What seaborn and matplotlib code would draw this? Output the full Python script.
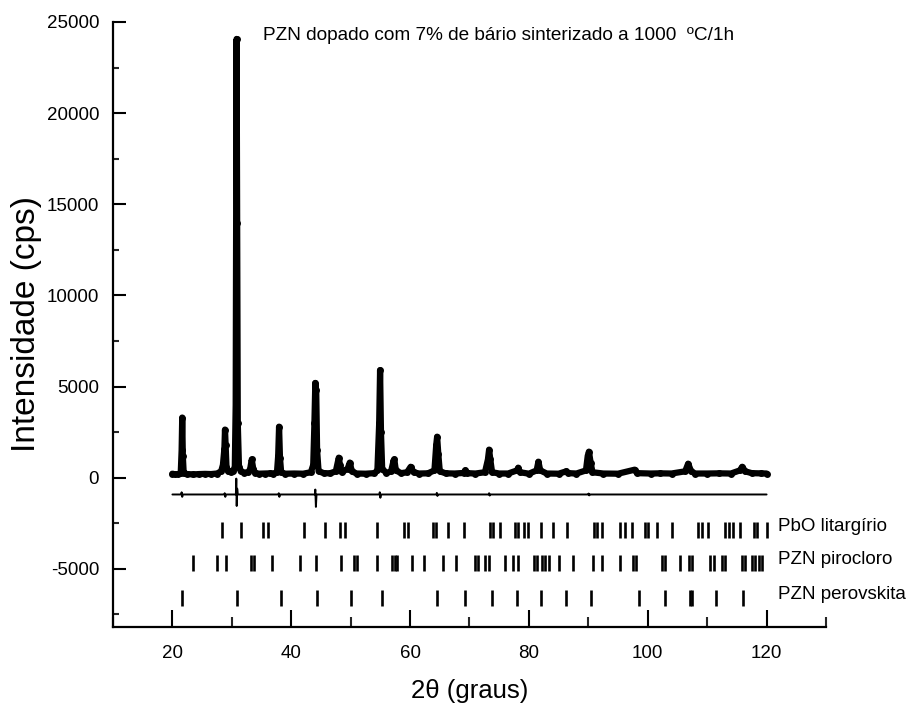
import numpy as np
import pandas as pd
import matplotlib
matplotlib.use("Agg")
import matplotlib.pyplot as plt
import seaborn as sns
from matplotlib.ticker import MultipleLocator

# ---------------- data ----------------
obs_2theta = [20.0, 20.5, 21.0, 21.4, 21.55, 21.65, 21.75, 21.9, 22.5, 23.5, 24.5, 25.5, 26.5,
              27.5, 28.2, 28.5, 28.75, 28.85, 28.95, 29.1, 29.4, 29.8, 30.2, 30.5, 30.65, 30.75,
              30.8, 30.9, 31.0, 31.2, 31.5, 32.0, 32.8, 33.1, 33.35, 33.6, 33.9, 34.5, 35.5, 36.5,
              37.0, 37.6, 37.8, 37.95, 38.1, 38.3, 39.0, 40.5, 42.0, 43.3, 43.7, 43.9, 44.05, 44.2,
              44.35, 44.6, 45.5, 46.5, 47.5, 47.8, 48.0, 48.2, 48.5, 49.5, 49.85, 50.2, 51.0, 52.5,
              54.0, 54.5, 54.8, 54.95, 55.1, 55.3, 56.0, 56.8, 57.2, 57.35, 57.6, 58.5, 59.5, 60.1,
              60.6, 61.5, 63.0, 64.1, 64.4, 64.55, 64.75, 65.0, 66.0, 67.5, 69.0, 69.3, 69.6, 71.0,
              72.6, 73.1, 73.3, 73.5, 73.8, 75.0, 76.5, 78.0, 78.2, 78.5, 80.0, 81.3, 81.6, 81.9,
              83.0, 85.0, 86.3, 86.6, 88.0, 89.6, 89.9, 90.1, 90.4, 90.7, 92.5, 95.0, 97.8, 98.2,
              100.5, 102.0, 104.0, 106.3, 106.8, 107.3, 108.0, 110.0, 112.0, 114.0, 115.5, 115.9,
              116.4, 117.5, 119.0, 120.0]
obs_intensity = [220, 180, 200, 250, 1500, 3300, 1200, 250, 200, 180, 200, 210, 200,
                 230, 350, 700, 1600, 2640, 1800, 600, 350, 300, 350, 600, 4000, 19000,
                 24070, 14000, 3000, 600, 350, 280, 300, 500, 1000, 500, 280, 220, 230, 240,
                 230, 300, 1200, 2800, 1100, 300, 220, 230, 220, 300, 700, 3000, 5200, 4800,
                 1500, 350, 250, 240, 350, 800, 1100, 700, 300, 500, 830, 350, 230, 220,
                 250, 400, 3000, 5900, 2500, 500, 260, 350, 900, 1000, 400, 250, 300, 600,
                 300, 230, 240, 400, 1800, 2250, 1300, 350, 240, 230, 260, 400, 250, 230,
                 300, 1000, 1540, 1000, 300, 230, 230, 400, 550, 300, 220, 400, 880, 400,
                 230, 220, 350, 250, 230, 400, 1200, 1430, 800, 300, 230, 220, 440, 250,
                 230, 240, 230, 350, 770, 350, 230, 230, 240, 230, 400, 600,
                 350, 250, 240, 230]

diff_2theta = [20.0, 21.5, 21.55, 21.65, 21.75, 28.75, 28.8, 28.9, 29.0, 30.68, 30.75, 30.82,
               30.9, 31.0, 37.85, 37.9, 38.0, 38.1, 43.98, 44.05, 44.15, 44.25, 54.85, 54.9, 55.0,
               55.1, 64.45, 64.5, 64.6, 64.7, 73.25, 73.3, 73.4, 73.5, 90.0, 90.05, 90.15, 90.25,
               120.0]
diff_intensity = [-920, -920, -800, -1050, -920, -920, -850, -1050, -920, -920, -50, -1550,
                  -600, -920, -920, -850, -1050, -920, -920, -650, -1600, -920, -920, -800, -1100,
                  -920, -920, -830, -1000, -920, -920, -850, -980, -920, -920, -870, -970, -920,
                  -920]

pbo_reflections = [28.3, 31.6, 35.3, 36.1, 42.2, 45.6, 48.2, 49.1, 54.4, 58.9, 59.6, 63.9, 64.4,
                   66.4, 69.1, 73.5, 74.0, 75.2, 77.7, 78.2, 79.1, 79.9, 82.1, 84.1, 86.4, 91.0,
                   91.4, 92.3, 95.4, 96.1, 97.3, 99.6, 100.1, 101.5, 104.1, 108.5, 109.1, 110.2,
                   113.0, 113.6, 114.4, 115.6, 117.8, 118.4, 120.0]
pyro_reflections = [23.5, 27.5, 29.0, 33.3, 33.7, 36.7, 41.5, 44.2, 48.3, 50.6, 51.0, 54.4, 56.9,
                    57.5, 57.8, 60.3, 62.4, 65.6, 67.7, 70.9, 71.5, 72.6, 73.2, 76.0, 77.4, 78.2,
                    80.8, 81.3, 82.2, 82.7, 83.3, 85.0, 87.5, 90.8, 92.3, 95.4, 97.6, 98.1, 102.4,
                    102.9, 105.5, 106.9, 107.4, 110.5, 111.1, 112.5, 113.0, 115.8, 116.4, 117.6,
                    118.1, 118.7, 119.2]
perov_reflections = [21.6, 30.9, 38.2, 44.3, 50.1, 55.2, 64.6, 69.3, 73.8, 78.0, 82.1, 86.2,
                     90.4, 98.6, 102.9, 107.1, 107.5, 111.5, 116.1]

phase_names = ["PbO litargírio", "PZN pirocloro", "PZN perovskita"]
phase_levels = [-2860, -4670, -6590]

title_text = "PZN dopado com 7% de bário sinterizado a 1000  ºC/1h"
x_ticks = [20, 40, 60, 80, 100, 120]
y_ticks = [-5000, 0, 5000, 10000, 15000, 20000, 25000]

# ---------------- plotting ----------------
sns.set_theme(style="ticks")
plt.rcParams["font.family"] = ["Liberation Sans", "DejaVu Sans"]
plt.rcParams["axes.unicode_minus"] = False

fig = plt.figure(figsize=(9.11, 7.09), dpi=100)
ax = fig.add_axes([113 / 911, 1 - 627 / 709, (826 - 113) / 911, (627 - 22) / 709])

obs = pd.DataFrame({"x": obs_2theta, "y": obs_intensity})
dif = pd.DataFrame({"x": diff_2theta, "y": diff_intensity})

sns.lineplot(data=obs, x="x", y="y", ax=ax, color="black", lw=4.5,
             marker="o", markersize=5, markeredgewidth=0, estimator=None, sort=False)
sns.lineplot(data=dif, x="x", y="y", ax=ax, color="black", lw=1.4,
             estimator=None, sort=False)

half = 440
for refl, lvl in zip([pbo_reflections, pyro_reflections, perov_reflections], phase_levels):
    ax.vlines(refl, lvl - half, lvl + half, colors="black", lw=1.9)

for name, lvl in zip(phase_names, phase_levels):
    ax.text(121.9, lvl + 170, name, fontsize=13.5, va="center", ha="left", color="black")

ax.text(35.2, 24250, title_text, fontsize=13.7, va="center", ha="left", color="black")

ax.set_xlim(10, 130)
ax.set_ylim(-8190, 25000)
ax.set_xticks(x_ticks)
ax.set_yticks(y_ticks)
ax.xaxis.set_minor_locator(MultipleLocator(10))
ax.yaxis.set_minor_locator(MultipleLocator(2500))

ax.spines["top"].set_visible(False)
ax.spines["right"].set_visible(False)
for s in ["left", "bottom"]:
    ax.spines[s].set_linewidth(1.6)
    ax.spines[s].set_color("black")

ax.tick_params(axis="x", which="major", direction="in", length=12, width=1.5,
               labelsize=13.5, pad=13, colors="black")
ax.tick_params(axis="x", which="minor", direction="in", length=7, width=1.5)
ax.tick_params(axis="y", which="major", direction="in", length=9, width=1.5,
               labelsize=13.5, pad=10, colors="black")
ax.tick_params(axis="y", which="minor", direction="in", length=4, width=1.5)

ax.set_xlabel("2θ (graus)", fontsize=18.5, labelpad=12, color="black")
ax.set_ylabel("Intensidade (cps)", fontsize=24, labelpad=3, color="black")

fig.savefig("out.png", dpi=100)
